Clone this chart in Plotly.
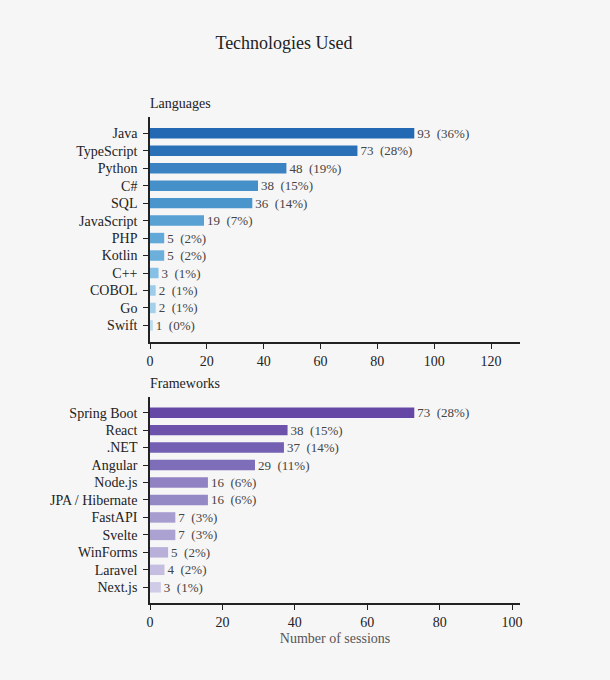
import plotly.graph_objects as go

lang_names = ["Java", "TypeScript", "Python", "C#", "SQL", "JavaScript",
              "PHP", "Kotlin", "C++", "COBOL", "Go", "Swift"]
lang_values = [93, 73, 48, 38, 36, 19, 5, 5, 3, 2, 2, 1]
lang_pct = [36, 28, 19, 15, 14, 7, 2, 2, 1, 1, 1, 0]
lang_colors = ["#2268b2", "#2a70b7", "#3a82c2", "#4590c9", "#4a95cc", "#59a0d3",
               "#62a8d8", "#6cafdb", "#86c0e4", "#9ccce9", "#a4d0eb", "#bcdcef"]

fw_names = ["Spring Boot", "React", ".NET", "Angular", "Node.js", "JPA / Hibernate",
            "FastAPI", "Svelte", "WinForms", "Laravel", "Next.js"]
fw_values = [73, 38, 37, 29, 16, 16, 7, 7, 5, 4, 3]
fw_pct = [28, 15, 14, 11, 6, 6, 3, 3, 2, 2, 1]
fw_colors = ["#6548a6", "#6c52ab", "#7360b2", "#7e6db8", "#9082c2", "#9589c5",
             "#a79dcf", "#aca2d2", "#b8b0d9", "#c5bee1", "#d0cbe7"]

FONT = "Liberation Serif"
BG = "#f7f6f7"

fig = go.Figure()
fig.add_trace(go.Bar(
    x=lang_values, y=lang_names, orientation="h",
    marker=dict(color=lang_colors, line=dict(width=0)),
    text=[f"{v}  ({p}%)" for v, p in zip(lang_values, lang_pct)],
    textposition="outside", cliponaxis=False, constraintext="none",
    textfont=dict(family=FONT, size=13, color="#444"),
    xaxis="x", yaxis="y", hoverinfo="skip", showlegend=False,
))
fig.add_trace(go.Bar(
    x=fw_values, y=fw_names, orientation="h",
    marker=dict(color=fw_colors, line=dict(width=0)),
    text=[f"{v}  ({p}%)" for v, p in zip(fw_values, fw_pct)],
    textposition="outside", cliponaxis=False, constraintext="none",
    textfont=dict(family=FONT, size=13, color="#444"),
    xaxis="x2", yaxis="y2", hoverinfo="skip", showlegend=False,
))

axis_common = dict(showline=True, linecolor="#222", linewidth=1.5,
                   ticks="outside", ticklen=5, tickcolor="#222", tickwidth=1.2,
                   showgrid=False, zeroline=False,
                   tickfont=dict(family=FONT, size=14, color="#222"))

fig.update_layout(
    width=610, height=680,
    paper_bgcolor=BG, plot_bgcolor=BG,
    margin=dict(l=150, r=90, t=117, b=77),
    bargap=0.4,
    font=dict(family=FONT, size=14, color="#222"),
    title=dict(text="Technologies Used", x=284/610, xanchor="center",
               y=1-43/680, yanchor="middle",
               font=dict(family=FONT, size=18, color="#222")),
    xaxis=dict(domain=[0, 1], anchor="y", range=[0, 130.2], dtick=20, **axis_common),
    yaxis=dict(domain=[0.537, 1.0], anchor="x", type="category",
               categoryorder="array", categoryarray=lang_names,
               range=[11.95, -0.93], ticklabelstandoff=3, **axis_common),
    xaxis2=dict(domain=[0, 1], anchor="y2", range=[0, 102.2], dtick=20,
                title=dict(text="Number of sessions", standoff=5,
                           font=dict(family=FONT, size=14, color="#555")),
                **axis_common),
    yaxis2=dict(domain=[0, 0.424], anchor="x2", type="category",
                categoryorder="array", categoryarray=fw_names,
                range=[10.9, -0.9], ticklabelstandoff=3, **axis_common),
    annotations=[
        dict(text="Languages", xref="paper", yref="paper", x=-2/370, y=(603-103)/486,
             xanchor="left", yanchor="middle", showarrow=False,
             font=dict(family=FONT, size=14, color="#222")),
        dict(text="Frameworks", xref="paper", yref="paper", x=-2/370, y=(603-383)/486,
             xanchor="left", yanchor="middle", showarrow=False,
             font=dict(family=FONT, size=14, color="#222")),
    ],
)

fig.write_html("out.html", config={"displayModeBar": False},
               post_script="document.body.style.margin='0';document.body.style.background='%s';" % BG)
